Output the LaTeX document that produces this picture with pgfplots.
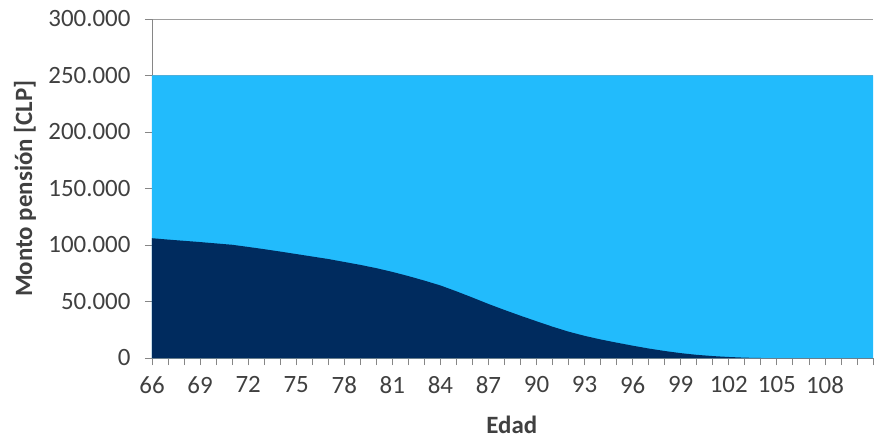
\documentclass[border=0pt]{standalone}
\usepackage{pgfplots}
\pgfplotsset{compat=1.18}
\usepackage{fontspec}
\setmainfont{Carlito}
\definecolor{lightb}{RGB}{34,187,252}
\definecolor{navy}{RGB}{0,43,94}
\definecolor{axgray}{RGB}{134,134,134}
\definecolor{txtgray}{RGB}{64,64,64}
\begin{document}
\begin{tikzpicture}
\useasboundingbox (-152bp,-83bp) rectangle (730bp,358bp);
\begin{axis}[
  at={(0,0)}, anchor=south west,
  scale only axis,
  width=721bp, height=339bp,
  xmin=66, xmax=111,
  ymin=0, ymax=300000,
  axis lines*=left,
  axis line style={axgray, line width=0.9pt},
  xtick={66,69,...,108},
  minor xtick={66,...,111},
  ytick={0,50000,...,300000},
  tick align=outside,
  major tick length=7bp, minor tick length=7bp,
  tick style={axgray, line width=0.8pt},
  ymajorgrids, grid style={axgray!80, line width=0.9pt},
  scaled y ticks=false,
  yticklabel shift=11bp,
  xticklabel shift=8bp,
  yticklabel style={/pgf/number format/.cd, fixed, precision=0, 1000 sep={.}, assume math mode=true},
  xticklabel style={/pgf/number format/assume math mode=true},
  ticklabel style={font=\fontsize{25}{27}\selectfont, text=txtgray},
  xlabel={Edad}, ylabel={Monto pensión [CLP]},
  label style={font=\fontsize{25}{27}\selectfont\bfseries, text=txtgray},
  xlabel style={at={(axis description cs:0.499,-0.198)}, anchor=center},
  ylabel style={at={(axis description cs:-0.176,0.5)}, anchor=center},
  clip=true,
]
\addplot[fill=lightb, draw=none] coordinates {(66,0) (66,250000) (111,250000) (111,0)} \closedcycle;
\addplot[fill=navy, draw=none] coordinates {
(66,106000) (67,104800) (68,103700) (69,102600) (70,101400) (71,100200)
(72,98300) (73,96300) (74,94200) (75,92000) (76,89800) (77,87600)
(78,85000) (79,82400) (80,79500) (81,76200) (82,72500) (83,68500)
(84,64200) (85,59000) (86,53500) (87,47800) (88,42500) (89,37400)
(90,32500) (91,27700) (92,23300) (93,19600) (94,16400) (95,13600)
(96,10900) (97,8400) (98,6200) (99,4300) (100,2800) (101,1700)
(102,900) (103,300) (104,0) (105,0) (106,0) (107,0) (108,0) (109,0) (110,0) (111,0)
} \closedcycle;
\end{axis}
\end{tikzpicture}
\end{document}
